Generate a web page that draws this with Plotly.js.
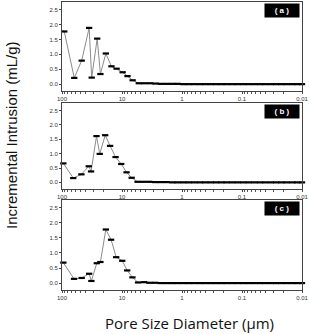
<!DOCTYPE html>
<html><head><meta charset="utf-8">
<script src="https://cdn.plot.ly/plotly-3.0.1.min.js"></script>
<style>html,body{margin:0;padding:0;background:#fff;}#chart{width:310px;height:334px;}</style>
</head><body><div id="chart"></div>
<script>
// Pore diameters (µm) and incremental intrusion (mL/g) for each sample
const diamA = [91.7, 62.5, 47, 35.3, 32, 25.9, 22.9, 18.6, 15, 12.3, 9.75, 8.1, 6.65, 5.25, 4.25, 3.4, 2.75, 2.25, 1.8, 1.45, 1.18, 0.95, 0.77, 0.62, 0.5, 0.41, 0.33, 0.27, 0.22, 0.18, 0.145, 0.118, 0.095, 0.077, 0.062, 0.05, 0.041, 0.033, 0.027, 0.022, 0.018, 0.0145, 0.012, 0.01];
const valA  = [1.77, 0.21, 0.79, 1.89, 0.22, 1.53, 0.34, 1.03, 0.60, 0.52, 0.40, 0.27, 0.13, 0.03, 0.03, 0.03, 0.02, 0.01, 0.01, 0.01, 0.01, 0.0, 0.0, 0.0, 0.0, 0.0, 0.0, 0.0, 0.0, 0.0, 0.0, 0.0, 0.0, 0.0, 0.0, 0.0, 0.0, 0.0, 0.0, 0.0, 0.0, 0.0, 0.0, 0.0];
const diamB = [95, 64.9, 47.5, 35.8, 32.8, 26.6, 23.5, 19.05, 15.8, 12.8, 10.3, 8.4, 6.9, 5.5, 4.4, 3.5, 2.8, 2.25, 1.8, 1.45, 1.18, 0.95, 0.77, 0.62, 0.5, 0.41, 0.33, 0.27, 0.22, 0.18, 0.145, 0.118, 0.095, 0.077, 0.062, 0.05, 0.041, 0.033, 0.027, 0.022, 0.018, 0.0145, 0.012, 0.01];
const valB  = [0.66, 0.15, 0.28, 0.56, 0.38, 1.61, 0.99, 1.64, 1.27, 0.88, 0.64, 0.35, 0.16, 0.02, 0.02, 0.02, 0.01, 0.01, 0.01, 0.0, 0.0, 0.0, 0.0, 0.0, 0.0, 0.0, 0.0, 0.0, 0.0, 0.0, 0.0, 0.0, 0.0, 0.0, 0.0, 0.0, 0.0, 0.0, 0.0, 0.0, 0.0, 0.0, 0.0, 0.0];
const diamC = [95, 63, 47, 35.3, 32.4, 26.3, 22.9, 18.6, 15.2, 12.5, 9.9, 8.2, 6.7, 5.4, 4.3, 3.5, 2.8, 2.25, 1.8, 1.45, 1.18, 0.95, 0.77, 0.62, 0.5, 0.41, 0.33, 0.27, 0.22, 0.18, 0.145, 0.118, 0.095, 0.077, 0.062, 0.05, 0.041, 0.033, 0.027, 0.022, 0.018, 0.0145, 0.012, 0.01];
const valC  = [0.68, 0.14, 0.17, 0.31, 0.07, 0.66, 0.70, 1.78, 1.44, 0.86, 0.74, 0.42, 0.19, 0.02, 0.03, 0.01, 0.01, 0.0, 0.0, 0.0, 0.0, 0.0, 0.0, 0.0, 0.0, 0.0, 0.0, 0.0, 0.0, 0.0, 0.0, 0.0, 0.0, 0.0, 0.0, 0.0, 0.0, 0.0, 0.0, 0.0, 0.0, 0.0, 0.0, 0.0];
const panelLabels = ['( a )', '( b )', '( c )'];
const xTickVals = [100, 10, 1, 0.1, 0.01];
const xTickText = ['100', '10', '1', '0.1', '0.01'];
const yTickVals = [0, 0.5, 1.0, 1.5, 2.0, 2.5];
const yTickText = ['0.0', '0.5', '1.0', '1.5', '2.0', '2.5'];
const minorFactors = [2, 3, 4, 5, 6, 7, 8, 9];

const minorVals = [];
[0.01, 0.1, 1, 10].forEach(d => minorFactors.forEach(f => minorVals.push(+(d * f).toPrecision(3))));

const series = [[diamA, valA], [diamB, valB], [diamC, valC]];
const traces = series.map((s, i) => ({
  x: s[0], y: s[1], type: 'scatter', mode: 'lines+markers',
  xaxis: i === 0 ? 'x' : 'x' + (i + 1), yaxis: i === 0 ? 'y' : 'y' + (i + 1),
  line: {color: '#8c8c8c', width: 1},
  marker: {symbol: 'line-ew', size: 4.5, line: {width: 2.2, color: '#000'}},
  cliponaxis: false, showlegend: false
}));

const H = 334;
const panelsPx = [[2, 91], [103, 189], [200, 290]];
const layout = {
  width: 310, height: 334,
  margin: {l: 62, r: 8, t: 0, b: 0},
  paper_bgcolor: '#fff', plot_bgcolor: '#fff',
  font: {family: 'Liberation Sans, Arial, sans-serif', color: '#222'},
  annotations: [],
  showlegend: false
};
panelsPx.forEach((p, i) => {
  const sx = i === 0 ? '' : String(i + 1);
  layout['xaxis' + sx] = {
    type: 'log', range: [2, -2], anchor: 'y' + sx,
    showline: true, mirror: true, linecolor: '#444', linewidth: 1,
    showgrid: false, zeroline: false,
    ticks: 'outside', ticklen: 2, tickwidth: 1, tickcolor: '#444',
    tickmode: 'array', tickvals: xTickVals, ticktext: xTickText,
    tickfont: {size: 6, color: '#333', family: 'Liberation Sans, Arial'},
    minor: {ticks: 'outside', ticklen: 1.5, tickwidth: 1, tickcolor: '#555', tickvals: minorVals, showgrid: false}
  };
  layout['yaxis' + sx] = {
    range: [-0.23, 2.76], anchor: 'x' + sx,
    domain: [1 - p[1] / H, 1 - p[0] / H],
    showline: true, mirror: true, linecolor: '#444', linewidth: 1,
    showgrid: false, zeroline: false,
    ticks: 'outside', ticklen: 2, tickwidth: 1, tickcolor: '#444',
    tickmode: 'array', tickvals: yTickVals, ticktext: yTickText,
    tickfont: {size: 6, color: '#333', family: 'Liberation Sans, Arial'}
  };
  layout.annotations.push({
    xref: 'x' + sx + ' domain', yref: 'y' + sx + ' domain',
    x: 0.99, y: 0.985, xanchor: 'right', yanchor: 'top',
    text: '<b>' + panelLabels[i] + '</b>', showarrow: false,
    bgcolor: '#000', width: 32, height: 11, borderpad: 1,
    font: {size: 8, color: '#fff', family: 'Liberation Sans, Arial'}
  });
});
layout.annotations.push({
  xref: 'paper', yref: 'paper', x: (11 - 62) / 240, y: 1 - 135 / H,
  xanchor: 'center', yanchor: 'middle', textangle: -90, showarrow: false,
  text: 'Incremental Intrusion (mL/g)',
  font: {size: 15, color: '#111', family: 'Liberation Sans, Arial'}
});
layout.annotations.push({
  xref: 'paper', yref: 'paper', x: (189 - 62) / 240, y: 1 - 323 / H,
  xanchor: 'center', yanchor: 'middle', showarrow: false,
  text: 'Pore Size Diameter (µm)',
  font: {size: 15, color: '#111', family: 'Open Sans, Noto Sans, sans-serif'}
});
Plotly.newPlot('chart', traces, layout, {displayModeBar: false, staticPlot: true});
</script></body></html>
